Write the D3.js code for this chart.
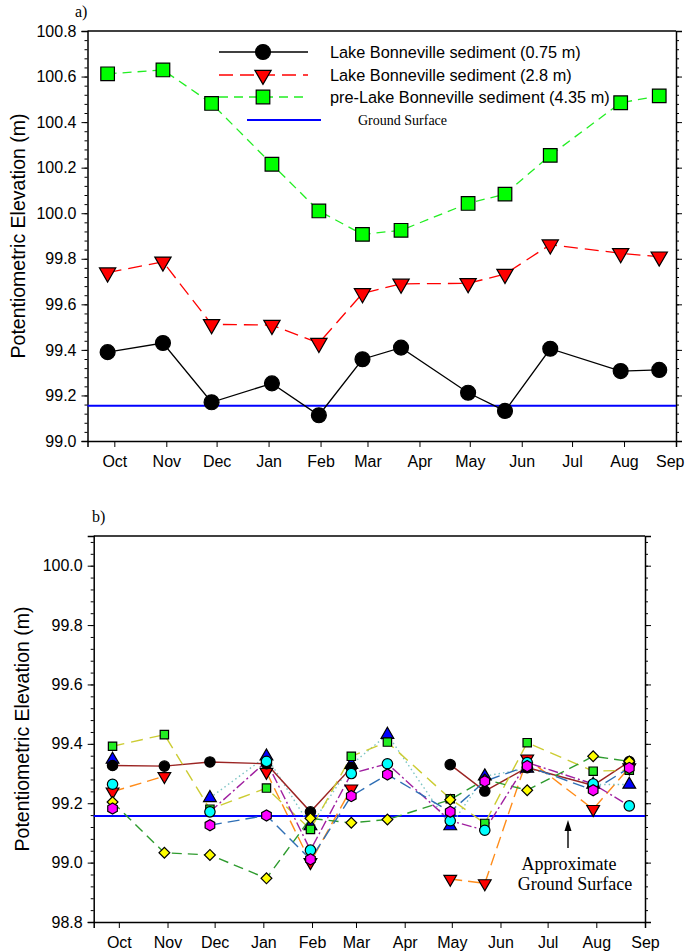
<!DOCTYPE html>
<html>
<head>
<meta charset="utf-8">
<script src="https://cdn.jsdelivr.net/npm/d3@7"></script>
<style>
  html, body { margin: 0; padding: 0; background: #fff; }
  svg { display: block; }
  .tick text { font-family: "Liberation Sans", Arial, sans-serif; font-size: 16px; fill: #000; }
</style>
</head>
<body>
<svg id="chart" width="685" height="952"></svg>
<script>
// ---------------- DATA ----------------
const sampleDates = ["2006-09-27","2006-10-30","2006-11-28","2007-01-03","2007-01-31","2007-02-26",
                     "2007-03-21","2007-04-30","2007-05-22","2007-06-18","2007-07-30","2007-08-22"];
const monthTickFormat = "%b";

// Panel a
const seriesANames = ["Lake Bonneville sediment (0.75 m)", "Lake Bonneville sediment (2.8 m)", "pre-Lake Bonneville sediment (4.35 m)"];
const lbs075 = [99.39, 99.43, 99.17, 99.253, 99.113, 99.359, 99.41, 99.212, 99.132, 99.405, 99.307, 99.312];
const lbs28  = [99.739, 99.787, 99.512, 99.509, 99.43, 99.648, 99.69, 99.692, 99.733, 99.862, 99.824, 99.809];
const preLbs = [100.612, 100.629, 100.482, 100.215, 100.01, 99.907, 99.925, 100.043, 100.084, 100.254, 100.485, 100.515];
const groundA = 99.155;
const groundLabelA = "Ground Surface";
const yDomainA = [99.0, 100.8];
const yTicksA = [99.0, 99.2, 99.4, 99.6, 99.8, 100.0, 100.2, 100.4, 100.6, 100.8];

// Panel b
const bBlackCircle   = [99.327, 99.325, 99.339, 99.333, 99.171, 99.32, null, 99.33, 99.241, 99.32, 99.26, 99.34];
const bRedTriangle   = [99.239, 99.291, null, 99.305, 99.001, 99.249, null, 98.945, 98.93, 99.35, 99.18, 99.32];
const bGreenSquare   = [99.392, 99.431, 99.18, 99.251, 99.112, 99.358, 99.406, 99.215, 99.132, 99.404, 99.308, 99.311];
const bYellowDiamond = [99.204, 99.033, 99.026, 98.947, 99.149, 99.134, 99.145, 99.212, 99.28, 99.244, 99.358, 99.341];
const bBlueTriangle  = [99.347, null, 99.218, 99.358, 99.123, 99.33, 99.431, 99.123, 99.291, 99.317, 99.263, 99.263];
const bCyanCircle    = [99.264, null, 99.171, 99.341, 99.042, 99.3, 99.333, 99.141, 99.109, 99.337, 99.265, 99.191];
const bMagentaHex    = [99.182, null, 99.126, 99.159, 99.011, 99.224, 99.297, 99.171, 99.274, 99.325, 99.244, 99.319];
const groundB = 99.157;
const groundLabelB = ["Approximate", "Ground Surface"];
const yDomainB = [98.8, 100.1];
const yTicksB = [98.8, 99.0, 99.2, 99.4, 99.6, 99.8, 100.0];

const yTitle = "Potentiometric Elevation (m)";
const xDomain = ["2006-09-15", "2007-09-01"];

// ---------------- DRAW ----------------
const svg = d3.select("#chart");
const parse = d3.utcParse("%Y-%m-%d");
const dates = sampleDates.map(parse);
const serifFont = '"Liberation Serif", "Times New Roman", serif';
const sansFont = '"Liberation Sans", Arial, sans-serif';

const hexagon = {
  draw(ctx, size) {
    const r = Math.sqrt(size / (1.5 * Math.sqrt(3)));
    for (let i = 0; i < 6; i++) {
      const a = Math.PI / 6 + i * Math.PI / 3;
      const px = r * Math.cos(a), py = r * Math.sin(a);
      if (i === 0) ctx.moveTo(px, py); else ctx.lineTo(px, py);
    }
    ctx.closePath();
  }
};

function minorTicks(domain, step) {
  const out = [];
  const n = Math.round((domain[1] - domain[0]) / step);
  for (let i = 0; i <= n; i++) out.push(+(domain[0] + i * step).toFixed(4));
  return out;
}

function panel(box, yDomain, yTicks, titleX, lastLabelEnd) {
  const x = d3.scaleUtc().domain(xDomain.map(parse)).range([box.left, box.right]);
  const y = d3.scaleLinear().domain(yDomain).range([box.bottom, box.top]);
  const g = svg.append("g");

  const minors = minorTicks(yDomain, 0.04).filter(v => v <= yDomain[1] + 1e-9);
  g.append("g").attr("transform", `translate(${box.left},0)`)
    .call(d3.axisLeft(y).tickValues(minors).tickSize(3).tickFormat(""))
    .call(s => s.select(".domain").remove());
  g.append("g").attr("transform", `translate(${box.right},0)`)
    .call(d3.axisRight(y).tickValues(minors).tickSize(3).tickFormat(""))
    .call(s => s.select(".domain").remove());
  g.append("g").attr("transform", `translate(${box.left},0)`)
    .call(d3.axisLeft(y).tickValues(yTicks).tickSize(6).tickPadding(5).tickFormat(d3.format(".1f")))
    .call(s => s.select(".domain").attr("stroke-width", 1.5));
  g.append("g").attr("transform", `translate(${box.right},0)`)
    .call(d3.axisRight(y).tickValues(yTicks).tickSize(6).tickFormat(""))
    .call(s => s.select(".domain").attr("stroke-width", 1.5));
  const xa = g.append("g").attr("transform", `translate(0,${box.bottom})`)
    .call(d3.axisBottom(x).ticks(d3.utcMonth.every(1)).tickSize(6).tickPadding(9)
      .tickFormat(d3.utcFormat(monthTickFormat)))
    .call(s => s.select(".domain").attr("stroke-width", 1.5));
  if (lastLabelEnd != null) {
    const ticks = xa.selectAll(".tick").nodes();
    const last = d3.select(ticks[ticks.length - 1]);
    last.select("text").attr("text-anchor", "end").attr("x", lastLabelEnd - box.right);
  }
  g.append("line").attr("x1", box.left).attr("x2", box.right)
    .attr("y1", box.top).attr("y2", box.top).attr("stroke", "#000").attr("stroke-width", 1.5);
  g.selectAll(".tick line").attr("stroke", "#000");

  g.append("text")
    .attr("transform", `translate(${titleX},${(box.top + box.bottom) / 2}) rotate(-90)`)
    .attr("text-anchor", "middle").attr("dominant-baseline", "central")
    .style("font-family", sansFont).style("font-size", "19.5px").text(yTitle);

  return {x, y, g};
}

function drawSeries(p, s, lw) {
  const data = dates.map((d, i) => ({d, v: s.vals[i]}));
  const line = d3.line().defined(e => e.v != null).x(e => p.x(e.d)).y(e => p.y(e.v));
  p.g.append("path").datum(data).attr("d", line).attr("fill", "none")
    .attr("stroke", s.line).attr("stroke-width", lw).attr("stroke-dasharray", s.dash);
}
function drawMarkers(p, s) {
  const data = dates.map((d, i) => ({d, v: s.vals[i]})).filter(e => e.v != null);
  p.g.selectAll(null).data(data).enter().append("path")
    .attr("d", d3.symbol().type(s.sym).size(s.size))
    .attr("transform", e => `translate(${p.x(e.d)},${p.y(e.v)}) rotate(${s.rot})`)
    .attr("fill", s.fill).attr("stroke", "#000").attr("stroke-width", 1.2);
}

// ---------- Panel a ----------
const A = {left: 87.5, right: 676, top: 31, bottom: 441};
const pa = panel(A, yDomainA, yTicksA, 18, 684);
svg.append("text").attr("x", 75).attr("y", 17).style("font-family", serifFont)
  .style("font-size", "16px").text("a)");

pa.g.append("line").attr("x1", A.left).attr("x2", A.right)
  .attr("y1", pa.y(groundA)).attr("y2", pa.y(groundA))
  .attr("stroke", "#0000ff").attr("stroke-width", 2);

const seriesA = [
  {vals: lbs075, line: "#000", dash: null, sym: d3.symbolCircle, size: 175, fill: "#000", rot: 0},
  {vals: lbs28, line: "#ff0000", dash: "14,7", sym: d3.symbolTriangle, size: 115, fill: "#ff0000", rot: 180},
  {vals: preLbs, line: "#22ee22", dash: "9,6", sym: d3.symbolSquare, size: 185, fill: "#00ff00", rot: 0}
];
seriesA.forEach(s => drawSeries(pa, s, 1.3));
seriesA.forEach(s => drawMarkers(pa, s));

const legY = [52, 75, 97];
seriesA.forEach((s, i) => {
  const lg = svg.append("g");
  lg.append("line").attr("x1", 219).attr("x2", 308).attr("y1", legY[i]).attr("y2", legY[i])
    .attr("stroke", s.line).attr("stroke-width", 1.3).attr("stroke-dasharray", s.dash);
  lg.append("path").attr("d", d3.symbol().type(s.sym).size(s.size)())
    .attr("transform", `translate(263,${legY[i]}) rotate(${s.rot})`)
    .attr("fill", s.fill).attr("stroke", "#000").attr("stroke-width", 1.2);
  lg.append("text").attr("x", 330).attr("y", legY[i]).attr("dominant-baseline", "central")
    .style("font-family", sansFont).style("font-size", "16.3px").text(seriesANames[i]);
});
svg.append("line").attr("x1", 247).attr("x2", 321).attr("y1", 120).attr("y2", 120)
  .attr("stroke", "#0000ff").attr("stroke-width", 2);
svg.append("text").attr("x", 358).attr("y", 120).attr("dominant-baseline", "central")
  .style("font-family", serifFont).style("font-size", "14px").text(groundLabelA);

// ---------- Panel b ----------
const B = {left: 93.7, right: 645, top: 536, bottom: 922};
const pb = panel(B, yDomainB, yTicksB, 22, null);
svg.append("text").attr("x", 92).attr("y", 522).style("font-family", serifFont)
  .style("font-size", "16px").text("b)");

pb.g.append("line").attr("x1", B.left).attr("x2", B.right)
  .attr("y1", pb.y(groundB)).attr("y2", pb.y(groundB))
  .attr("stroke", "#0000ff").attr("stroke-width", 2.2);

const seriesB = [
  {vals: bRedTriangle, line: "#ff8c1a", dash: "12,6", sym: d3.symbolTriangle, size: 70, fill: "#ff0000", rot: 180},
  {vals: bBlueTriangle, line: "#7cc4c4", dash: "1.5,3", sym: d3.symbolTriangle, size: 70, fill: "#0000ff", rot: 0},
  {vals: bBlackCircle, line: "#9b2423", dash: null, sym: d3.symbolCircle, size: 85, fill: "#000", rot: 0},
  {vals: bGreenSquare, line: "#cccc33", dash: "12,7", sym: d3.symbolSquare, size: 70, fill: "#22ee22", rot: 0},
  {vals: bYellowDiamond, line: "#2e9b2e", dash: "10,6", sym: d3.symbolSquare, size: 58, fill: "#ffff00", rot: 45},
  {vals: bCyanCircle, line: "#a020a0", dash: "10,3,2,3", sym: d3.symbolCircle, size: 85, fill: "#00ffff", rot: 0},
  {vals: bMagentaHex, line: "#2f6fb5", dash: "12,6", sym: hexagon, size: 80, fill: "#ff00ff", rot: 0}
];
seriesB.forEach(s => drawSeries(pb, s, 1.4));
seriesB.forEach(s => drawMarkers(pb, s));

// annotation: arrow pointing up to the ground line
const arrowX = 568;
svg.append("line").attr("x1", arrowX).attr("x2", arrowX).attr("y1", 848).attr("y2", 828)
  .attr("stroke", "#000").attr("stroke-width", 1.4);
svg.append("path")
  .attr("d", `M${arrowX - 3.5},831 L${arrowX},820 L${arrowX + 3.5},831 Z`)
  .attr("fill", "#000");
svg.append("text").attr("x", 569).attr("y", 870).attr("text-anchor", "middle")
  .style("font-family", serifFont).style("font-size", "18px").text(groundLabelB[0]);
svg.append("text").attr("x", 575).attr("y", 890).attr("text-anchor", "middle")
  .style("font-family", serifFont).style("font-size", "18px").text(groundLabelB[1]);
</script>
</body>
</html>
